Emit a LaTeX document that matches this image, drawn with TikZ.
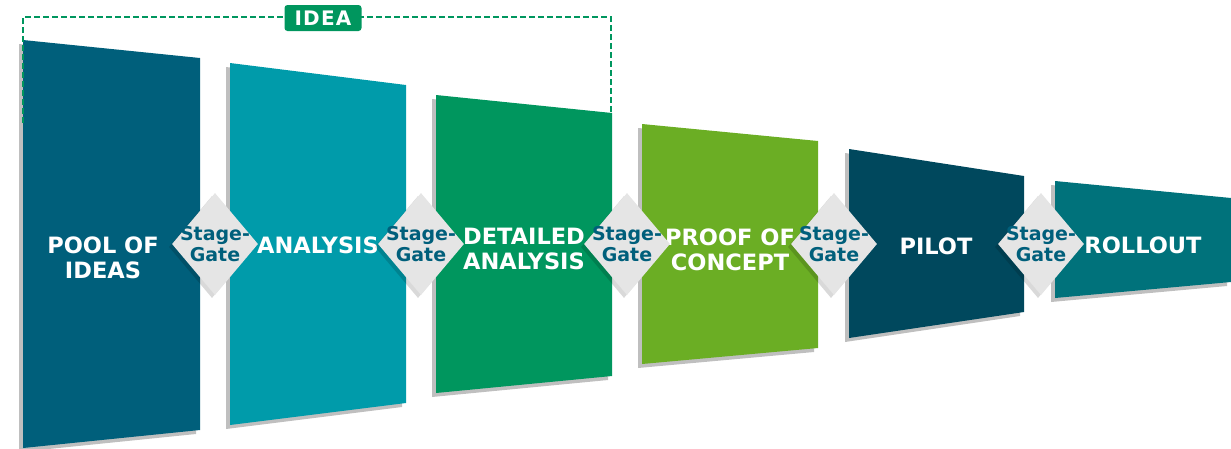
\documentclass[tikz,border=0pt]{standalone}
\usepackage{fontspec}
\setmainfont{DejaVu Sans}
\usetikzlibrary{shapes.geometric,shadows}

\definecolor{poolblue}{HTML}{005F7B}
\definecolor{analysisteal}{HTML}{009BAA}
\definecolor{detailgreen}{HTML}{00965E}
\definecolor{proofgreen}{HTML}{6BAE24}
\definecolor{pilotblue}{HTML}{00485D}
\definecolor{rolloutteal}{HTML}{00727B}
\definecolor{gatefill}{HTML}{E5E5E5}
\definecolor{gatetext}{HTML}{005F7B}

\tikzset{
  softshadow/.style={drop shadow={shadow xshift=-4pt,shadow yshift=-4pt,opacity=0.25,fill=black}},
  panel/.style={fill=#1,softshadow},
  panellabel/.style={text=white,font=\bfseries\fontsize{22.5}{25}\selectfont,align=center,inner sep=0pt},
  gate/.style={diamond,fill=gatefill,minimum width=86pt,minimum height=102pt,inner sep=0pt,
    drop shadow={shadow xshift=-3pt,shadow yshift=-3pt,opacity=0.15,fill=black}},
  gatelabel/.style={text=gatetext,font=\bfseries\fontsize{19}{21}\selectfont,align=center,inner sep=0pt},
  ideatag/.style={fill=detailgreen,rounded corners=3pt,text=white,
    font=\bfseries\fontsize{20}{22}\selectfont\addfontfeature{LetterSpace=6},
    inner sep=0pt,minimum width=77pt,minimum height=26pt}
}

\begin{document}
\begin{tikzpicture}[x=1pt,y=-1pt]
	\useasboundingbox (0,0) rectangle (1231,448);

	% stages
	\fill[panel=poolblue] (23,40) -- (200,58) -- (200,430) -- (23,448) -- cycle;
	\fill[panel=analysisteal] (230,63) -- (406,85) -- (406,403) -- (230,425) -- cycle;
	\fill[panel=detailgreen] (436,95) -- (612,113) -- (612,376) -- (436,393) -- cycle;
	\fill[panel=proofgreen] (642,124) -- (818,141) -- (818,348) -- (642,364) -- cycle;
	\fill[panel=pilotblue] (849,149) -- (1024,176) -- (1024,312) -- (849,338) -- cycle;
	\fill[panel=rolloutteal] (1055,181) -- (1231,198) -- (1231,282) -- (1055,298) -- cycle;

	\node[panellabel] (pool) at (103,258) {POOL OF\\IDEAS};
	\node[panellabel] (analysis) at (318,245) {ANALYSIS};
	\node[panellabel] (detailed) at (524,249) {DETAILED\\ANALYSIS};
	\node[panellabel] (proof) at (730,250) {PROOF OF\\CONCEPT};
	\node[panellabel] (pilot) at (936,246) {PILOT};
	\node[panellabel] (rollout) at (1143,245) {ROLLOUT};

	% gates
	\foreach \gx [count=\i] in {215,421,627,834,1041} {
		\node[gate] (gate\i) at (\gx,244) {};
		\node[gatelabel] (gatetext\i) at (gate\i) {Stage-\\Gate};
	}

	% idea bracket
	\coordinate (idea start) at (23,123);
	\coordinate (idea corner) at (23,17);
	\coordinate (idea end) at (611,113);
	\draw[detailgreen,line width=2.5pt,dash pattern=on 6pt off 3pt]
		(idea start) -- (idea corner) -| (idea end);
	\node[ideatag] (idea) at (323,18) {IDEA};

\end{tikzpicture}
\end{document}
